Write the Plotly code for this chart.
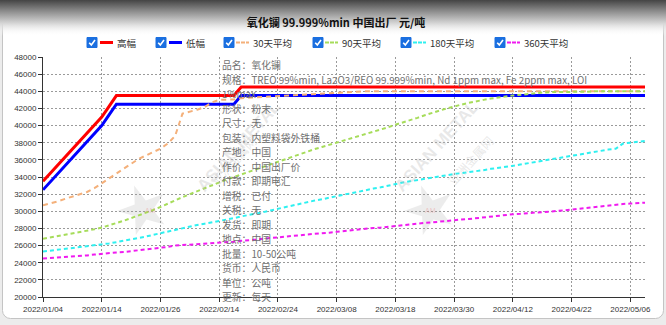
import base64
import math
import plotly.graph_objects as go

# ---------------- data ----------------
dates = [
    "2022/01/04", "2022/01/05", "2022/01/06", "2022/01/07", "2022/01/10", "2022/01/11", "2022/01/12",
    "2022/01/13", "2022/01/14", "2022/01/17", "2022/01/18", "2022/01/19", "2022/01/20", "2022/01/21",
    "2022/01/24", "2022/01/25", "2022/01/26", "2022/01/27", "2022/01/28",
    "2022/02/07", "2022/02/08", "2022/02/09", "2022/02/10", "2022/02/11", "2022/02/14", "2022/02/15",
    "2022/02/16", "2022/02/17", "2022/02/18", "2022/02/21", "2022/02/22", "2022/02/23", "2022/02/24",
    "2022/02/25", "2022/02/28",
    "2022/03/01", "2022/03/02", "2022/03/03", "2022/03/04", "2022/03/07", "2022/03/08", "2022/03/09",
    "2022/03/10", "2022/03/11", "2022/03/14", "2022/03/15", "2022/03/16", "2022/03/17", "2022/03/18",
    "2022/03/21", "2022/03/22", "2022/03/23", "2022/03/24", "2022/03/25", "2022/03/28", "2022/03/29",
    "2022/03/30", "2022/03/31",
    "2022/04/01", "2022/04/02", "2022/04/06", "2022/04/07", "2022/04/08", "2022/04/11", "2022/04/12",
    "2022/04/13", "2022/04/14", "2022/04/15", "2022/04/18", "2022/04/19", "2022/04/20", "2022/04/21",
    "2022/04/22", "2022/04/24", "2022/04/25", "2022/04/26", "2022/04/27", "2022/04/28", "2022/04/29",
    "2022/05/05", "2022/05/06", "2022/05/07", "2022/05/09",
]

high = [
    33500, 34450, 35400, 36350, 37300, 38250, 39200, 40100, 41000, 42250,
    43500, 43500, 43500, 43500, 43500, 43500, 43500, 43500, 43500, 43500,
    43500, 43500, 43500, 43500, 43500, 43500, 43500, 44500, 44500, 44500,
    44500, 44500, 44500, 44500, 44500, 44500, 44500, 44500, 44500, 44500,
    44500, 44500, 44500, 44500, 44500, 44500, 44500, 44500, 44500, 44500,
    44500, 44500, 44500, 44500, 44500, 44500, 44500, 44500, 44500, 44500,
    44500, 44500, 44500, 44500, 44500, 44500, 44500, 44500, 44500, 44500,
    44500, 44500, 44500, 44500, 44500, 44500, 44500, 44500, 44500, 44500,
    44500, 44500, 44500,
]

low = [
    32500, 33450, 34400, 35350, 36300, 37250, 38200, 39100, 40000, 41250,
    42500, 42500, 42500, 42500, 42500, 42500, 42500, 42500, 42500, 42500,
    42500, 42500, 42500, 42500, 42500, 42500, 42500, 43500, 43500, 43500,
    43500, 43500, 43500, 43500, 43500, 43500, 43500, 43500, 43500, 43500,
    43500, 43500, 43500, 43500, 43500, 43500, 43500, 43500, 43500, 43500,
    43500, 43500, 43500, 43500, 43500, 43500, 43500, 43500, 43500, 43500,
    43500, 43500, 43500, 43500, 43500, 43500, 43500, 43500, 43500, 43500,
    43500, 43500, 43500, 43500, 43500, 43500, 43500, 43500, 43500, 43500,
    43500, 43500, 43500,
]

avg30 = [
    30700, 30900, 31150, 31450, 31700, 31950, 32250, 32700, 33250, 33800,
    34400, 34900, 35500, 36100, 36500, 36900, 37300, 37900, 38800, 41400,
    41600, 41850, 42150, 42700, 43000, 43050, 43050, 43200, 43250, 43300,
    43350, 43400, 43450, 43500, 43550, 43600, 43650, 43700, 43750, 43800,
    43850, 43900, 43950, 44000, 44000, 44000, 44000, 44000, 44000, 44000,
    44000, 44000, 44000, 44000, 44000, 44000, 44000, 44000, 44000, 44000,
    44000, 44000, 44000, 44000, 44000, 44000, 44000, 44000, 44000, 44000,
    44000, 44000, 44000, 44000, 44000, 44000, 44000, 44000, 44000, 44000,
    44000, 44000, 44000,
]

avg90 = [
    26800, 26950, 27100, 27250, 27400, 27550, 27700, 27900, 28100, 28350,
    28600, 28900, 29200, 29500, 29800, 30150, 30500, 30900, 31300, 31650,
    32000, 32350, 32700, 33050, 33400, 33700, 34000, 34300, 34600, 34900,
    35200, 35500, 35800, 36100, 36400, 36700, 37000, 37250, 37500, 37750,
    38000, 38250, 38500, 38800, 39050, 39300, 39550, 39800, 40100, 40350,
    40650, 40900, 41200, 41500, 41750, 42000, 42250, 42450, 42650, 42850,
    43000, 43150, 43300, 43400, 43500, 43600, 43700, 43800, 43850, 43900,
    43900, 43950, 43950, 43950, 43950, 44000, 44000, 44000, 44000, 44000,
    44000, 44000, 44000,
]

avg180 = [
    25300, 25400, 25500, 25600, 25700, 25800, 25900, 26000, 26100, 26250,
    26400, 26550, 26700, 26850, 27050, 27250, 27450, 27650, 27850, 28050,
    28200, 28400, 28550, 28700, 28850, 29050, 29200, 29400, 29550, 29750,
    29900, 30100, 30300, 30450, 30650, 30850, 31050, 31250, 31400, 31600,
    31750, 31950, 32100, 32300, 32450, 32650, 32800, 33000, 33150, 33350,
    33500, 33650, 33800, 33950, 34100, 34200, 34350, 34450, 34550, 34700,
    34800, 34950, 35050, 35150, 35300, 35450, 35600, 35750, 35900, 36050,
    36200, 36350, 36500, 36600, 36750, 36900, 37050, 37200, 37300, 37900,
    38000, 38100, 38200,
]

avg360 = [
    24500, 24550, 24600, 24650, 24700, 24800, 24850, 24950, 25050, 25100,
    25200, 25250, 25350, 25400, 25500, 25600, 25700, 25850, 26000, 26050,
    26100, 26150, 26200, 26250, 26300, 26400, 26450, 26550, 26600, 26700,
    26800, 26850, 26950, 27050, 27100, 27200, 27300, 27350, 27450, 27500,
    27600, 27700, 27750, 27850, 27950, 28050, 28100, 28200, 28300, 28400,
    28450, 28550, 28650, 28700, 28800, 28850, 28950, 29050, 29100, 29200,
    29300, 29400, 29450, 29550, 29650, 29700, 29800, 29850, 29900, 29950,
    30050, 30100, 30200, 30300, 30350, 30450, 30550, 30650, 30750, 30850,
    30900, 30950, 31000,
]

series_names = ["高幅", "低幅", "30天平均", "90天平均", "180天平均", "360天平均"]

tick_labels = ["2022/01/04", "2022/01/14", "2022/01/26", "2022/02/14", "2022/02/24", "2022/03/08",
               "2022/03/18", "2022/03/30", "2022/04/12", "2022/04/22", "2022/05/06"]

title_text = "氧化镧 99.999%min 中国出厂 元/吨"

info_lines = [
    "品名：氧化镧",
    "规格：TREO 99%min, La2O3/REO 99.999%min, Nd 1ppm max, Fe 2ppm max, LOI",
    "1%max",
    "形状：粉末",
    "尺寸：无",
    "包装：内塑料袋外铁桶",
    "产地：中国",
    "作价：中国出厂价",
    "付款：即期电汇",
    "增税：已付",
    "关税：无",
    "发货：即期",
    "地点：中国",
    "批量：10-50公吨",
    "货币：人民币",
    "单位：公吨",
    "更新：每天",
]

# ---------------- styles ----------------
W, H = 666, 325
ML, MR, MT, MB = 43, 21, 57, 28
PW, PH = W - ML - MR, H - MT - MB

def px_x(x):
    return (x - ML) / PW

def px_y(y):
    return (H - MB - y) / PH

colors = ["#ff0000", "#0000ff", "#f4b07a", "#a6dc5a", "#2ef0f0", "#f01af0"]
widths = [3, 3, 2, 2, 2, 2]
dashes = ["solid", "solid", "5px,4px", "4px,3px", "4px,3px", "4px,3px"]
all_series = [high, low, avg30, avg90, avg180, avg360]

CJK = "Noto Sans CJK SC"

fig = go.Figure()
for name, vals, c, w, d in zip(series_names, all_series, colors, widths, dashes):
    fig.add_trace(go.Scatter(x=dates, y=vals, mode="lines", name=name,
                             line=dict(color=c, width=w, dash=d), showlegend=False,
                             hoverinfo="x+y+name"))

shapes = []
annotations = []

# background (panel + header gradient) as svg image
svg = (
    '<svg xmlns="http://www.w3.org/2000/svg" width="666" height="325" viewBox="0 0 666 325" '
    'preserveAspectRatio="none"><defs><linearGradient id="g" x1="0" y1="0" x2="0" y2="1">'
    '<stop offset="0" stop-color="#444444"/><stop offset="0.3" stop-color="#8a8a8a"/>'
    '<stop offset="0.65" stop-color="#d6d6d6"/><stop offset="1" stop-color="#ffffff" stop-opacity="0"/>'
    '</linearGradient></defs>'
    '<rect width="666" height="325" fill="#ececec"/>'
    '<rect x="2.5" y="-20" width="661" height="338.5" rx="8" fill="#ffffff" stroke="#c4c4c4"/>'
    '<rect x="0" y="0" width="666" height="36" fill="url(#g)"/>'
    '</svg>'
)
bg_src = "data:image/svg+xml;base64," + base64.b64encode(svg.encode()).decode()

# watermark stars
def star_path(cx, cy, R, r, rot):
    pts = []
    for i in range(10):
        ang = math.radians(rot + i * 36)
        rad = R if i % 2 == 0 else r
        pts.append((px_x(cx + rad * math.sin(ang)), px_y(cy - rad * math.cos(ang))))
    return "M " + " L ".join(f"{x:.5f},{y:.5f}" for x, y in pts) + " Z"

for cx in (143, 430):
    shapes.append(dict(type="path", xref="paper", yref="paper", path=star_path(cx, 210, 26, 10, -20),
                       fillcolor="rgba(200,200,200,0.35)", line=dict(width=0), layer="below"))
    annotations.append(dict(x=px_x(cx), y=px_y(210), xref="paper", yref="paper", text="AM",
                            showarrow=False, font=dict(size=7, color="rgba(230,120,120,0.35)",
                                                       family="Liberation Sans")))

for cx, cy in ((190, 146), (485, 146)):
    annotations.append(dict(x=px_x(cx), y=px_y(cy), xref="paper", yref="paper", text="<b>ASIAN METAL</b>",
                            showarrow=False, textangle=-48,
                            font=dict(size=17, color="rgba(190,190,190,0.35)", family="Liberation Sans")))
    annotations.append(dict(x=px_x(cx + 14), y=px_y(cy + 14), xref="paper", yref="paper", text="亚洲金属网",
                            showarrow=False, textangle=-48,
                            font=dict(size=12, color="rgba(190,190,190,0.35)", family=CJK)))

# custom legend
legend_pos = [  # checkbox x, line x0, line x1, text x
    (87, 100, 113, 115),
    (156, 169, 182, 184),
    (224, 236, 249, 251),
    (313, 325, 338, 340),
    (401, 413, 426, 428),
    (495, 507, 520, 522),
]
LY = 42.5
for (cb, l0, l1, tx), name, c, d in zip(legend_pos, series_names, colors, dashes):
    shapes.append(dict(type="rect", xref="paper", yref="paper", x0=px_x(cb), x1=px_x(cb + 10),
                       y0=px_y(LY + 5), y1=px_y(LY - 5), fillcolor="#1a6fe0", line=dict(color="#1a6fe0", width=1)))
    check = (f"M {px_x(cb + 2.2):.5f},{px_y(LY + 0.2):.5f} L {px_x(cb + 4.3):.5f},{px_y(LY + 2.4):.5f} "
             f"L {px_x(cb + 8):.5f},{px_y(LY - 2.6):.5f}")
    shapes.append(dict(type="path", xref="paper", yref="paper", path=check,
                       line=dict(color="#ffffff", width=1.6)))
    shapes.append(dict(type="line", xref="paper", yref="paper", x0=px_x(l0), x1=px_x(l1),
                       y0=px_y(LY), y1=px_y(LY),
                       line=dict(color=c, width=3 if d == "solid" else 2, dash="solid" if d == "solid" else "4px,1px")))
    annotations.append(dict(x=px_x(tx), y=px_y(LY), xref="paper", yref="paper", text=name,
                            xanchor="left", yanchor="middle", showarrow=False,
                            font=dict(size=9.5, color="#333333", family=CJK)))

# info block
for i, line in enumerate(info_lines):
    annotations.append(dict(x=px_x(220), y=px_y(65 + 14.5 * i), xref="paper", yref="paper", text=line,
                            xanchor="left", yanchor="middle", showarrow=False,
                            font=dict(size=9.8, color="#707070", family=CJK)))

axis_common = dict(
    showline=True, linecolor="#333333", linewidth=1,
    ticks="outside", ticklen=4, tickcolor="#333333",
    showgrid=True, gridcolor="#9a9a9a", griddash="2px,2px", gridwidth=1,
    zeroline=False,
    tickfont=dict(size=8, color="#333333", family="Liberation Sans"),
)

fig.update_layout(
    width=W, height=H, autosize=False,
    margin=dict(l=ML, r=MR, t=MT, b=MB, pad=0),
    paper_bgcolor="#ececec", plot_bgcolor="rgba(0,0,0,0)",
    title=dict(text=title_text, x=336 / W, xanchor="center", y=1 - 23 / H, yanchor="middle",
               font=dict(size=11, color="#111111", family=CJK, weight="bold")),
    xaxis=dict(type="category", categoryorder="array", categoryarray=dates,
               range=[0, len(dates) - 1], tickmode="array", tickvals=tick_labels, ticktext=tick_labels,
               tickangle=0, **axis_common),
    yaxis=dict(range=[20000, 48000], dtick=2000, tick0=20000, tickformat="d", **axis_common),
    images=[dict(source=bg_src, xref="paper", yref="paper", x=px_x(0), y=px_y(0),
                 sizex=W / PW, sizey=H / PH, xanchor="left", yanchor="top",
                 sizing="stretch", layer="below")],
    shapes=shapes,
    annotations=annotations,
    showlegend=False,
)

fig.write_html("out.html")
